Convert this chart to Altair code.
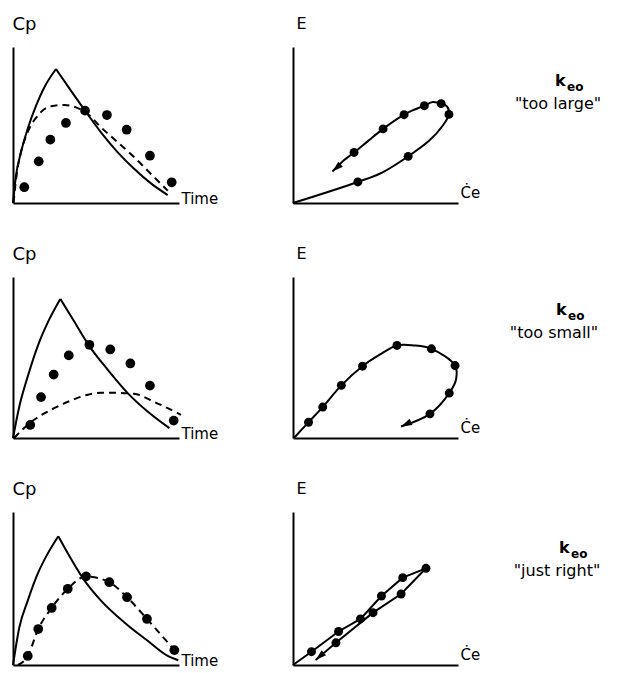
import altair as alt
import pandas as pd

FONT = "DejaVu Sans"

# ---------------- Row 1 : keo "too large" ----------------
R1_RISE_T = [0, 0.18, 0.48, 0.88, 1.39, 1.89, 2.59]
R1_RISE_C = [0, 1.75, 3.25, 4.74, 6.24, 7.42, 8.59]
R1_FALL_T = [2.59, 3.30, 4.34, 5.30, 6.31, 7.31, 8.31, 9.32]
R1_FALL_C = [8.59, 7.49, 5.92, 4.53, 3.25, 2.18, 1.26, 0.51]
R1_DASH_T = [0.03, 0.24, 0.48, 0.88, 1.49, 2.29, 3.09, 3.80, 4.50, 5.30, 6.31, 7.31, 8.31, 9.32]
R1_DASH_C = [0.0, 1.97, 3.25, 4.53, 5.60, 6.20, 6.28, 6.13, 5.71, 4.85, 3.89, 2.93, 1.86, 0.79]
R1_DOT_T = [0.68, 1.55, 2.25, 3.19, 4.34, 5.66, 6.85, 8.25, 9.56]
R1_DOT_C = [1.01, 2.67, 4.06, 5.13, 5.92, 5.64, 4.70, 3.03, 1.33]

R1_LOOP_CE = [0, 3.93, 5.40, 6.98, 8.26, 9.08, 9.45, 9.33, 8.98, 8.47, 7.96, 7.24, 6.73, 5.46, 4.58, 3.70, 3.05, 2.39]
R1_LOOP_E = [0, 1.35, 1.95, 2.99, 4.00, 4.97, 5.68, 6.19, 6.37, 6.47, 6.24, 5.94, 5.66, 4.75, 4.00, 3.24, 2.71, 2.02]
R1_EDOT_CE = [3.93, 6.98, 9.45, 8.98, 7.96, 6.73, 5.46, 3.70]
R1_EDOT_E = [1.35, 2.99, 5.68, 6.37, 6.24, 5.66, 4.75, 3.24]
R1_ARROW = (2.39, 2.02)

# ---------------- Row 2 : keo "too small" ----------------
R2_RISE_T = [0, 0.38, 0.89, 1.49, 2.19, 2.85]
R2_RISE_C = [0, 1.96, 3.83, 5.71, 7.38, 8.64]
R2_FALL_T = [2.85, 3.69, 4.60, 5.70, 6.91, 8.11, 9.42]
R2_FALL_C = [8.64, 7.23, 5.71, 4.25, 2.79, 1.64, 0.61]
R2_DASH_T = [0.06, 1.27, 2.29, 3.31, 4.52, 5.30, 6.08, 7.29, 8.49, 10.12]
R2_DASH_C = [0.0, 1.13, 1.75, 2.25, 2.69, 2.81, 2.81, 2.75, 2.25, 1.44]
R2_DOT_T = [1.04, 1.69, 2.45, 3.36, 4.60, 5.86, 7.07, 8.25, 9.68]
R2_DOT_C = [0.81, 2.54, 3.94, 5.13, 5.79, 5.50, 4.63, 3.25, 1.08]

R2_LOOP_CE = [0.06, 0.94, 1.80, 2.93, 4.21, 5.28, 6.30, 7.32, 8.39, 9.82, 9.88, 9.47, 8.30, 6.55]
R2_LOOP_E = [0, 0.98, 1.92, 3.27, 4.46, 5.19, 5.75, 5.75, 5.54, 4.50, 3.63, 2.79, 1.50, 0.71]
R2_EDOT_CE = [0.94, 1.80, 2.93, 4.21, 6.30, 8.39, 9.82, 9.47, 8.30]
R2_EDOT_E = [0.98, 1.92, 3.27, 4.46, 5.75, 5.54, 4.50, 2.79, 1.50]
R2_ARROW = (6.55, 0.71)

# ---------------- Row 3 : keo "just right" ----------------
R3_RISE_T = [0, 0.38, 0.89, 1.49, 2.09, 2.73]
R3_RISE_C = [0, 2.45, 4.21, 5.97, 7.28, 8.42]
R3_FALL_T = [2.73, 3.49, 4.30, 5.30, 6.71, 8.11, 9.32, 9.96]
R3_FALL_C = [8.42, 6.95, 5.53, 4.21, 2.78, 1.58, 0.59, 0.31]
R3_DASH_T = [0.30, 0.89, 1.52, 2.33, 3.30, 4.40, 5.80, 6.87, 8.07, 9.72]
R3_DASH_C = [0.0, 0.59, 2.35, 3.73, 4.98, 5.79, 5.41, 4.43, 3.01, 0.97]
R3_DOT_T = [0.89, 1.52, 2.33, 3.30, 4.40, 5.80, 6.87, 8.07, 9.72]
R3_DOT_C = [0.59, 2.35, 3.73, 4.98, 5.79, 5.41, 4.43, 3.01, 0.97]

R3_UP_CE = [0, 1.12, 2.76, 4.09, 5.36, 6.65, 8.06]
R3_UP_E = [0, 0.87, 2.19, 3.01, 4.51, 5.71, 6.32]
R3_DOWN_CE = [8.06, 6.55, 4.85, 2.60, 1.37]
R3_DOWN_E = [6.32, 4.64, 3.42, 1.45, 0.33]
R3_EDOT_CE = [1.12, 2.60, 2.76, 4.09, 4.85, 5.36, 6.55, 6.65, 8.06]
R3_EDOT_E = [0.87, 1.45, 2.19, 3.01, 3.42, 4.51, 4.64, 5.71, 6.32]
R3_ARROW = (1.37, 0.33)

LABELS = ['"too large"', '"too small"', '"just right"']
K_MAIN = "k"
K_SUB = "eo"

ARROW_SHAPE = "M0,0L0.62,2L-0.62,2Z"


def xaxis(title, w, size, dx, dy):
    return alt.Axis(title=title, domain=True, domainColor="black", domainWidth=2,
                    ticks=False, labels=False, grid=False,
                    titleAngle=0, titleAlign="left", titleBaseline="alphabetic",
                    titleX=w + dx, titleY=dy, titleFont=FONT, titleFontSize=size,
                    titleFontWeight="normal", titleColor="black")


def yaxis(title, size, dx, dy):
    return alt.Axis(title=title, domain=True, domainColor="black", domainWidth=2,
                    ticks=False, labels=False, grid=False,
                    titleAngle=0, titleAlign="left", titleBaseline="alphabetic",
                    titleX=dx, titleY=dy, titleFont=FONT, titleFontSize=size,
                    titleFontWeight="normal", titleColor="black")


def seq(xs, ys, xn, yn, **extra):
    d = pd.DataFrame({xn: xs, yn: ys, "i": list(range(len(xs)))})
    for k, v in extra.items():
        d[k] = v
    return d


SC = alt.Scale(domain=[0, 10], nice=False, zero=False)


def cp_panel(rt, rc, ft, fc, dt, dc, pt, pc, w, h):
    X = alt.X("t:Q", scale=SC, axis=xaxis("Time", w, 15, 2, 0))
    Y = alt.Y("c:Q", scale=SC, axis=yaxis("Cp", 18, -1, -18))
    solid_df = pd.concat([seq(rt, rc, "t", "c", seg="rise"), seq(ft, fc, "t", "c", seg="fall")])
    solid = alt.Chart(solid_df).mark_line(color="black", strokeWidth=2, interpolate="monotone").encode(
        x=X, y=Y, detail="seg:N", order="i:Q")
    dashed = alt.Chart(seq(dt, dc, "t", "c")).mark_line(
        color="black", strokeWidth=2, strokeDash=[7, 5], interpolate="monotone").encode(x=X, y=Y, order="i:Q")
    dots = alt.Chart(seq(pt, pc, "t", "c")).mark_circle(color="black", size=95, opacity=1).encode(x=X, y=Y)
    return alt.layer(solid, dashed, dots).properties(width=w, height=h)


def e_panel(paths, interp, pce, pe, arrow, angle, w, h, label, kx, ky, lx, ly):
    X = alt.X("ce:Q", scale=SC, axis=xaxis("Ċe", w, 15, 2, -6))
    Y = alt.Y("e:Q", scale=SC, axis=yaxis("E", 16, 3, -19))
    path_df = pd.concat([seq(a, b, "ce", "e", seg=str(n)) for n, (a, b) in enumerate(paths)])
    line = alt.Chart(path_df).mark_line(color="black", strokeWidth=2, interpolate=interp).encode(
        x=X, y=Y, detail="seg:N", order="i:Q")
    dots = alt.Chart(seq(pce, pe, "ce", "e")).mark_circle(color="black", size=80, opacity=1).encode(x=X, y=Y)
    arr = alt.Chart(seq([arrow[0]], [arrow[1]], "ce", "e")).mark_point(
        shape=ARROW_SHAPE, filled=True, color="black", opacity=1, size=120, angle=angle, strokeWidth=0).encode(x=X, y=Y)
    tdf = pd.DataFrame({"k": [K_MAIN], "s": [K_SUB], "lab": [label]})
    k = alt.Chart(tdf).mark_text(font=FONT, fontSize=16, fontWeight="bold", align="left",
                                 baseline="alphabetic", color="black").encode(
        text="k:N", x=alt.value(kx), y=alt.value(ky))
    s = alt.Chart(tdf).mark_text(font=FONT, fontSize=12, fontWeight="bold", align="left",
                                 baseline="alphabetic", color="black").encode(
        text="s:N", x=alt.value(kx + 12), y=alt.value(ky + 5))
    lab = alt.Chart(tdf).mark_text(font=FONT, fontSize=16, align="center",
                                   baseline="alphabetic", color="black").encode(
        text="lab:N", x=alt.value(lx), y=alt.value(ly))
    return alt.layer(line, dots, arr, k, s, lab).properties(width=w, height=h)


p1l = cp_panel(R1_RISE_T, R1_RISE_C, R1_FALL_T, R1_FALL_C, R1_DASH_T, R1_DASH_C, R1_DOT_T, R1_DOT_C, 166, 156)
p1r = e_panel([(R1_LOOP_CE, R1_LOOP_E)], "catmull-rom", R1_EDOT_CE, R1_EDOT_E, R1_ARROW, 228,
              165, 156, LABELS[0], 262, 39, 265, 62)
p2l = cp_panel(R2_RISE_T, R2_RISE_C, R2_FALL_T, R2_FALL_C, R2_DASH_T, R2_DASH_C, R2_DOT_T, R2_DOT_C, 166, 161)
p2r = e_panel([(R2_LOOP_CE, R2_LOOP_E)], "catmull-rom", R2_EDOT_CE, R2_EDOT_E, R2_ARROW, 245,
              165, 161, LABELS[1], 263, 38, 261, 61)
p3l = cp_panel(R3_RISE_T, R3_RISE_C, R3_FALL_T, R3_FALL_C, R3_DASH_T, R3_DASH_C, R3_DOT_T, R3_DOT_C, 166, 153)
p3r = e_panel([(R3_UP_CE, R3_UP_E), (R3_DOWN_CE, R3_DOWN_E)], "linear", R3_EDOT_CE, R3_EDOT_E, R3_ARROW, 229,
              165, 153, LABELS[2], 266, 41, 264, 64)

chart = alt.concat(p1l, p1r, p2l, p2r, p3l, p3r, columns=2, bounds="flush", align="each",
                   spacing={"row": 74, "column": 114}).properties(
    padding={"left": 0, "top": 6, "right": 0, "bottom": 0}
).configure_view(stroke="transparent")

chart.save("out.html", embed_options={"renderer": "svg", "actions": False})
